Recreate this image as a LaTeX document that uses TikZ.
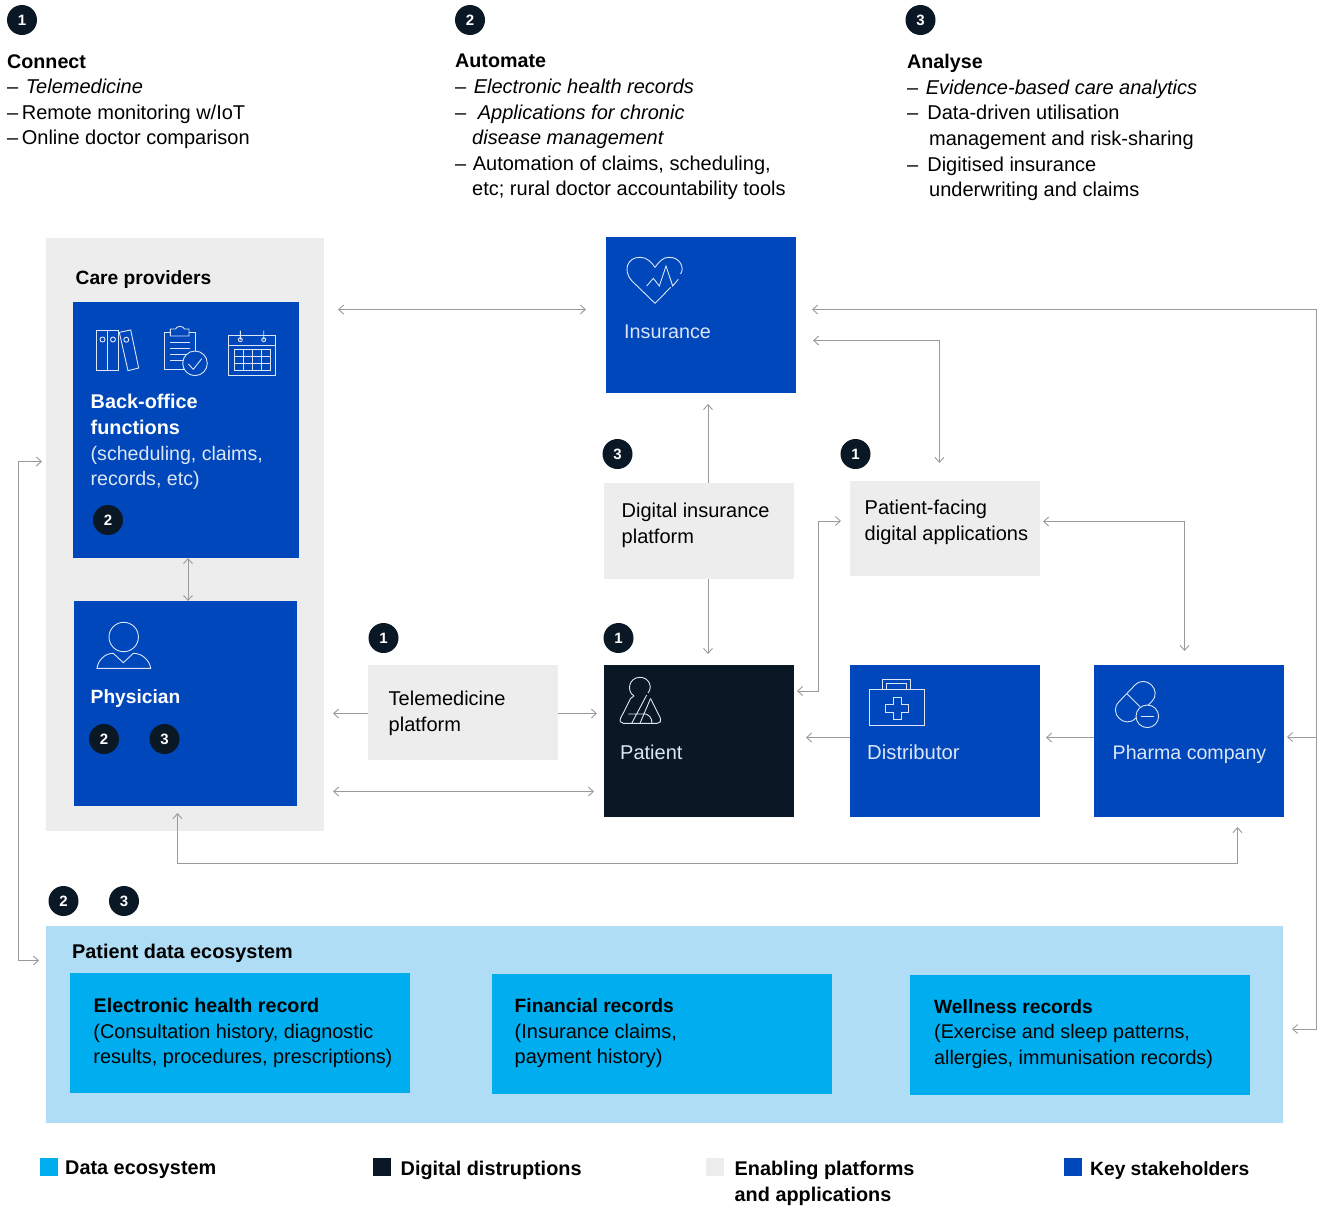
\documentclass[tikz,border=0pt]{standalone}
\usepackage{fontspec}
\setmainfont{Liberation Sans}
\usetikzlibrary{arrows.meta}
\definecolor{keyblue}{HTML}{0047BB}
\definecolor{navy}{HTML}{0A1826}
\definecolor{platform}{HTML}{EDEDED}
\definecolor{cyanbox}{HTML}{00AEEF}
\definecolor{paleblue}{HTML}{AEDDF5}
\definecolor{linkgrey}{HTML}{9A9A9A}
\definecolor{softwhite}{HTML}{DCE6F7}
\newcommand{\bl}[1]{{\fontsize{19.85}{25.6}\selectfont\bfseries #1}}
\newcommand{\bt}[1]{{\fontsize{19.7}{25.6}\selectfont\bfseries #1}}
\newcommand{\bs}[1]{{\fontsize{19.2}{25.6}\selectfont\bfseries #1}}
\tikzset{
  box/.style={anchor=north west,inner sep=0pt,outer sep=0pt,minimum width=#1},
  fs/.style={font=\fontsize{#1}{25.6}\selectfont},
  blk/.style={anchor=north west,inner sep=0pt,align=left,yshift=-1.4pt,fs=20,text=black},
  wht/.style={blk,text=white},
  soft/.style={blk,text=softwhite},
  badge/.style={circle,fill=navy,text=white,inner sep=0pt,minimum size=30pt,font=\fontsize{15}{15}\selectfont\bfseries},
  link/.style={draw=linkgrey,line width=0.9pt,{Straight Barb[length=5pt,width=9pt]}-{Straight Barb[length=5pt,width=9pt]}},
  tolink/.style={draw=linkgrey,line width=0.9pt,-{Straight Barb[length=5pt,width=9pt]}},
  icon/.style={draw=softwhite,line width=0.9pt},
}
\newcommand{\bx}[6]{\node[box=#4pt,minimum height=#5pt,fill=#6] (#1) at (#2,#3) {};}
\begin{document}
\begin{tikzpicture}[x=1pt,y=-1pt]
\useasboundingbox (0,0) rectangle (1324,1205);
% containers and boxes
\bx{care}{46}{238}{278}{593}{platform}
\bx{eco}{46}{926}{1237}{197}{paleblue}
\bx{ins}{606}{237}{190}{156}{keyblue}
\bx{back}{73}{302}{226}{256}{keyblue}
\bx{phys}{74}{601}{223}{205}{keyblue}
\bx{dip}{604}{483}{190}{96}{platform}
\bx{pfa}{850}{481}{190}{95}{platform}
\bx{tele}{368}{665}{190}{95}{platform}
\bx{pat}{604}{665}{190}{152}{navy}
\bx{dist}{850}{665}{190}{152}{keyblue}
\bx{pharma}{1094}{665}{190}{152}{keyblue}
\bx{ehr}{70}{973}{340}{120}{cyanbox}
\bx{fin}{492}{974}{340}{120}{cyanbox}
\bx{well}{910}{975}{340}{120}{cyanbox}
\bx{l1}{40}{1158}{18}{18}{cyanbox}
\bx{l2}{373}{1158}{18}{18}{navy}
\bx{l3}{706}{1158}{18}{18}{platform}
\bx{l4}{1064}{1158}{18}{18}{keyblue}
% header text
\node[blk] (tc) at (7,52.8) {\bt{Connect}\\–\hspace{7.5pt}\textit{Telemedicine}\\–\hspace{3.5pt}Remote monitoring w/IoT\\–\hspace{3.5pt}Online doctor comparison};
\node[blk] (ta) at (455,52.8) {\bt{Automate}\\–\hspace{7.5pt}\textit{Electronic health records}\\–\hspace{11.5pt}\textit{Applications for chronic}\\\hspace*{17pt}\textit{disease management}\\–\hspace{6.5pt}Automation of claims, scheduling,\\\hspace*{17pt}etc; rural doctor accountability tools};
\node[blk] (tn) at (907,52.8) {\bt{Analyse}\\–\hspace{7.5pt}\textit{Evidence-based care analytics}\\–\hspace{9pt}Data-driven utilisation\\\hspace*{22pt}management and risk-sharing\\–\hspace{9pt}Digitised insurance\\\hspace*{22pt}underwriting and claims};
% labels
\node[blk] (tcare) at (75.5,268.5) {\bs{Care providers}};
\node[wht] (tback) at (90.5,392.5) {\bl{Back-office}\\\bl{functions}};
\node[soft,fs=19.6] (tback2) at (90.5,444.5) {(scheduling, claims,\\records, etc)};
\node[wht] (tphys) at (90.5,687.5) {\bs{Physician}};
\node[soft,fs=19.75] (tins) at (624,323.5) {Insurance};
\node[blk] (tdip) at (621.5,501.5) {Digital insurance\\platform};
\node[blk] (tpfa) at (864.5,498.5) {Patient-facing\\digital applications};
\node[blk] (ttele) at (388.5,689.5) {Telemedicine\\platform};
\node[soft] (tpat) at (620,743.5) {Patient};
\node[soft,fs=20.3] (tdist) at (867,743.5) {Distributor};
\node[soft,fs=19.6] (tpharma) at (1112.5,743.5) {Pharma company};
\node[blk] (teco) at (72,942.5) {\bl{Patient data ecosystem}};
\node[blk] (tehr) at (93.5,996.5) {\bt{Electronic health record}};
\node[blk,fs=19.85] (tehr2) at (93.2,1022) {(Consultation history, diagnostic\\results, procedures, prescriptions)};
\node[blk] (tfin) at (514.5,996.5) {\bs{Financial records}};
\node[blk] (tfin2) at (514.5,1022) {(Insurance claims,\\payment history)};
\node[blk] (twell) at (934,997.5) {\bs{Wellness records}};
\node[blk,fs=19.75] (twell2) at (934,1022.5) {(Exercise and sleep patterns,\\allergies, immunisation records)};
\node[blk] (ll1) at (65,1159.5) {\bl{Data ecosystem}};
\node[blk] (ll2) at (400.5,1159.5) {\bl{Digital distruptions}};
\node[blk] (ll3) at (734.5,1159.5) {\bl{Enabling platforms}\\\bl{and applications}};
\node[blk] (ll4) at (1090,1159.5) {\bs{Key stakeholders}};
% badges
\node[badge] (b1) at (22,20) {1};
\node[badge] (b2) at (470,20) {2};
\node[badge] (b3) at (920.5,20) {3};
\node[badge] (b4) at (617.5,454) {3};
\node[badge] (b5) at (855.5,454) {1};
\node[badge] (b6) at (108,520) {2};
\node[badge] (b7) at (104,739) {2};
\node[badge] (b8) at (164.5,739) {3};
\node[badge] (b9) at (383.5,638) {1};
\node[badge] (b10) at (618.5,638) {1};
\node[badge] (b11) at (63.5,901) {2};
\node[badge] (b12) at (124,901) {3};
% free connector ends
\coordinate (careE1) at (338,309.5);
\coordinate (insW1) at (586,309.5);
\coordinate (insE1) at (812,309.5);
\coordinate (rightTop) at (1316.5,309.5);
\coordinate (rightBot) at (1316.5,1029);
\coordinate (ecoE) at (1292,1029);
\coordinate (rightMid) at (1316.5,737);
\coordinate (pharmaE) at (1287,737);
\coordinate (insE2) at (813,340.5);
\coordinate (pfaC) at (939.5,340.5);
\coordinate (pfaN) at (939.5,463);
\coordinate (insS) at (708,404);
\coordinate (dipN) at (708,483);
\coordinate (dipS) at (708,579);
\coordinate (patN) at (708,654);
\coordinate (pfaW) at (841,521);
\coordinate (elbA) at (818.5,521);
\coordinate (elbB) at (818.5,691);
\coordinate (patE) at (797,691);
\coordinate (pfaE) at (1043,521.5);
\coordinate (elbC) at (1184.5,521.5);
\coordinate (pharmaN) at (1184.5,651);
\coordinate (backS) at (188,558);
\coordinate (physN) at (188,601);
\coordinate (teleW) at (368,713.5);
\coordinate (careE2) at (333,713.5);
\coordinate (teleE) at (558,713.5);
\coordinate (patW) at (597,713.5);
\coordinate (careE3) at (333,791.5);
\coordinate (patW2) at (594,791.5);
\coordinate (distW) at (850,737.5);
\coordinate (patE2) at (806,737.5);
\coordinate (pharmaW) at (1094,737.5);
\coordinate (distE) at (1046,737.5);
\coordinate (careS) at (177.5,813);
\coordinate (busA) at (177.5,863.5);
\coordinate (busB) at (1237.5,863.5);
\coordinate (pharmaS) at (1237.5,827);
\coordinate (careW) at (42,461.5);
\coordinate (leftA) at (18,461.5);
\coordinate (leftB) at (18,960.5);
\coordinate (ecoW) at (39,960.5);
% connectors
\draw[link] (careE1) -- (insW1);
\draw[link] (insE1) -- (rightTop) -- (rightBot) -- (ecoE);
\draw[tolink] (rightMid) -- (pharmaE);
\draw[link] (insE2) -- (pfaC) -- (pfaN);
\draw[tolink] (dipN) -- (insS);
\draw[tolink] (dipS) -- (patN);
\draw[link] (pfaW) -- (elbA) -- (elbB) -- (patE);
\draw[link] (pfaE) -- (elbC) -- (pharmaN);
\draw[link] (backS) -- (physN);
\draw[tolink] (teleW) -- (careE2);
\draw[tolink] (teleE) -- (patW);
\draw[link] (careE3) -- (patW2);
\draw[tolink] (distW) -- (patE2);
\draw[tolink] (pharmaW) -- (distE);
\draw[link] (careS) -- (busA) -- (busB) -- (pharmaS);
\draw[link] (careW) -- (leftA) -- (leftB) -- (ecoW);
% binders
\draw[icon] (96.7,330.7) rectangle (118.7,370) (107.7,330.7) -- (107.7,370);
\draw[icon] (102.5,339.5) circle (2.5) (113,339.5) circle (2.5) (126.3,339.7) circle (2.5);
\draw[icon] (119.3,332.3) -- (130.7,330) -- (138.7,368) -- (128,370.7) -- cycle;
% clipboard
\draw[icon] (170.3,332.3) -- (164.3,332.3) -- (164.3,369.3) -- (184,369.3);
\draw[icon] (189,332.3) -- (195,332.3) -- (195,351);
\draw[icon] (170.3,329) -- (175.5,329) .. controls (176.5,325.5) and (183.5,325.5) .. (184.5,329) -- (189,329) -- (189,336) -- (170.3,336) -- cycle;
\draw[icon] (170,342.3) -- (190,342.3) (170,348.3) -- (190,348.3) (170,354.3) -- (190,354.3) (170,360.3) -- (183,360.3);
\draw[icon,fill=keyblue] (195,363.3) circle (12.3);
\draw[icon] (188.3,364) -- (193.3,369.3) -- (201.7,358.7);
% calendar
\draw[icon] (228.3,335.3) rectangle (275.7,375.7) (228.3,345.3) -- (275.7,345.3);
\draw[icon] (240.3,339.7) circle (2) (263.7,339.7) circle (2) (240.3,330.7) -- (240.3,339.7) (263.7,330.7) -- (263.7,339.7);
\draw[icon] (234.3,349.3) rectangle (270,370.7) (243.3,349.3) -- (243.3,370.7) (252.3,349.3) -- (252.3,370.7) (261,349.3) -- (261,370.7) (234.3,356.7) -- (270,356.7) (234.3,363.7) -- (270,363.7);
% heart
\draw[icon] (670.7,287.3) -- (655,303.3) -- (632,281) .. controls (622,270) and (628,257) .. (640,257.3) .. controls (647,257) and (652,263) .. (655,267.3) .. controls (659,262) and (663,257) .. (669,257.3) .. controls (680,257) and (685,268) .. (680.5,274);
\draw[icon] (646.7,286) -- (653.3,278.3) -- (659.3,286) -- (666,266) -- (672.7,286) -- (678.3,279.3);
% person
\draw[icon] (123.7,637) circle (14.7);
\draw[icon] (97,668.3) .. controls (98,660) and (105,653.3) .. (113.3,653.3) -- (123.3,662.7) -- (133.3,653.3) .. controls (142,653.3) and (149.5,660) .. (150.7,668.3) -- cycle;
% patient
\draw[icon] (634,696) .. controls (626,691) and (629,677.3) .. (640,677.3) .. controls (649,677.3) and (653,687) .. (648,693) (634,696) -- (630.7,698.3) -- (620.7,718) .. controls (619,721) and (621,723.3) .. (623.3,723.3) -- (657.3,723.3) .. controls (660,723.3) and (661.5,721) .. (660.5,718.5) -- (650.5,698.5);
\draw[icon] (646.7,695) -- (631.7,723.3) (650.5,698.5) -- (640,723.3) (628.3,714) -- (642,714) .. controls (649,713) and (652,718) .. (652,723.3);
% briefcase
\draw[icon] (869.3,689.3) rectangle (924,725.3);
\draw[icon] (882.7,689.3) -- (882.7,679.3) -- (910.7,679.3) -- (910.7,689.3) (886.7,689.3) -- (886.7,683.3) -- (906.7,683.3) -- (906.7,689.3);
\draw[icon] (893.3,697) -- (901,697) -- (901,704.3) -- (908.7,704.3) -- (908.7,712.3) -- (901,712.3) -- (901,719.7) -- (893.3,719.7) -- (893.3,712.3) -- (885.7,712.3) -- (885.7,704.3) -- (893.3,704.3) -- cycle;
% pill
\draw[icon] (1135,685) .. controls (1146,674) and (1162.6,690.6) .. (1151.6,701.6) -- (1135.6,718.3) .. controls (1124.6,729.3) and (1108,712.7) .. (1119,701.7) -- cycle;
\draw[icon] (1127.3,694) -- (1140,706.7);
\draw[icon,fill=keyblue] (1147.3,716.3) circle (11.3);
\draw[icon] (1140.7,716.3) -- (1154.3,716.3);
\end{tikzpicture}
\end{document}
